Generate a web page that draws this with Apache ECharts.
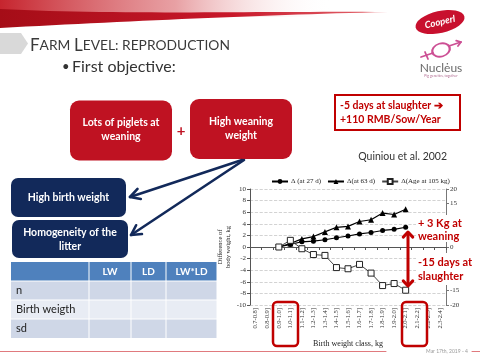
<!DOCTYPE html>
<html><head><meta charset="utf-8">
<script src="https://cdn.jsdelivr.net/npm/echarts@6/dist/echarts.min.js"></script>
<style>html,body{margin:0;padding:0;background:#fff}#c{width:480px;height:360px}</style>
</head><body><div id="c"></div>
<script>
// ---- data ----
const categories = ['0.7-0.8]','0.8-0.9]','0.9-1.0]','1.0-1.1]','1.1-1.2]','1.2-1.3]','1.3-1.4]','1.4-1.5]','1.5-1.6]','1.6-1.7]','1.7-1.8]','1.8-1.9]','1.9-2.0]','2.0-2.1]','2.1-2.2]','2.2-2.3]','2.3-2.4]'];
const at27 = [null,null,0,0.45,0.9,1.0,1.25,1.6,1.9,2.25,2.5,2.85,3.05,3.4,null,null,null];
const at63 = [null,null,0,0.6,1.4,1.8,2.6,3.4,3.55,4.4,4.7,5.85,5.6,6.5,null,null,null];
const age105 = [null,null,0,2.3,-0.6,-2.6,-2.9,-7.1,-7.5,-6.0,-9.0,-13.3,-12.6,-14.9,null,null,null];
const seriesNames = ['\u0394 (at 27 d)','\u0394(at 63 d)','\u0394(Age at 105 kg)'];
const leftAxisTicks = {min:-10, max:10, interval:2};
const rightAxisTicks = {min:-20, max:20, interval:5};
const tableHeader = ['', 'LW', 'LD', 'LW*LD'];
const tableRows = ['n', 'Birth weigth', 'sd'];

// ---- helpers ----
const SANS = 'Lato, "Open Sans", sans-serif';
const SERIF = '"Liberation Serif","DejaVu Serif",serif';
const RED = '#bf1222', NAVY = '#12295a', TRED = '#c00000';
function rect(x,y,w,h,fill,r,z){ return {type:'rect', silent:true, z:z||1, shape:{x:x,y:y,width:w,height:h,r:r||0}, style:{fill:fill}}; }
function txt(x,y,text,opt,z){ return {type:'text', silent:true, z:z||5, x:x, y:y, style:Object.assign({text:text, fill:'#222', fontFamily:SANS, fontSize:11, align:'left', verticalAlign:'middle'}, opt||{})}; }
function line(pts,stroke,w,z){ return {type:'polyline', silent:true, z:z||5, shape:{points:pts}, style:{stroke:stroke, lineWidth:w, fill:null, lineCap:'round', lineJoin:'round'}}; }
function head(tx,ty,fx,fy,len,ang){ const a=Math.atan2(fy-ty,fx-tx); return [[tx+len*Math.cos(a+ang),ty+len*Math.sin(a+ang)],[tx,ty],[tx+len*Math.cos(a-ang),ty+len*Math.sin(a-ang)]]; }
function bez(p0,p1,p2,p3,n){ const out=[]; for(let i=0;i<=n;i++){const t=i/n,u=1-t; out.push([u*u*u*p0[0]+3*u*u*t*p1[0]+3*u*t*t*p2[0]+t*t*t*p3[0], u*u*u*p0[1]+3*u*u*t*p1[1]+3*u*t*t*p2[1]+t*t*t*p3[1]]);} return out; }

const G = [];
// banner
G.push({type:'rect', silent:true, z:1, shape:{x:0,y:0,width:390,height:17}, style:{fill:new echarts.graphic.LinearGradient(0,0,1,0,[{offset:0,color:'rgba(195,25,35,0.95)'},{offset:0.45,color:'rgba(222,120,125,0.7)'},{offset:0.85,color:'rgba(255,255,255,0)'}])}});
const swoosh = bez([0,9],[120,15],[260,11],[388,12],30).concat(bez([388,12],[260,15],[130,21],[0,28],30));
G.push({type:'polygon', silent:true, z:2, shape:{points:swoosh}, style:{fill:new echarts.graphic.LinearGradient(0,0,1,0,[{offset:0,color:'#a50d17'},{offset:0.6,color:'#c8182a'},{offset:1,color:'#e56b72'}])}});
// left gray tab
G.push({type:'polygon', silent:true, z:1, shape:{points:[[0,33],[21,33],[28,43.5],[21,54],[0,54]]}, style:{fill:'#d9d9d9'}});
// title
G.push({type:'text', silent:true, z:5, x:30, y:54, style:{text:'{a|F}{b|ARM }{a|L}{b|EVEL: REPRODUCTION}', verticalAlign:'bottom', rich:{a:{fontSize:17, fontFamily:SANS, fill:'#3a3a3a'}, b:{fontSize:13.8, fontFamily:SANS, fill:'#3a3a3a'}}}});
G.push(txt(62,67,'\u2022',{fontSize:13, fill:'#333'}));
G.push(txt(72,67,'First objective:',{fontSize:16, fill:'#333'}));
// Cooperl logo
G.push({type:'circle', silent:true, z:3, x:440, y:22, rotation:0.22, scaleY:0.44, shape:{cx:0,cy:0,r:25}, style:{fill:'#c8102e'}});
G.push({type:'text', silent:true, z:4, x:440, y:22, rotation:0.22, style:{text:'Cooperl', fill:'#fff', fontFamily:SANS, fontSize:9.5, fontStyle:'italic', fontWeight:'bold', align:'center', verticalAlign:'middle'}});
// Nucleus logo
G.push({type:'circle', silent:true, z:3, x:441, y:50, rotation:0.3, scaleY:0.72, shape:{cx:0,cy:0,r:9}, style:{fill:null, stroke:'#cc4f94', lineWidth:2, strokeNoScale:true}});
G.push(line([[421,57],[433,53]],'#cc4f94',1.8,3));
G.push(line([[425,52],[428,59]],'#cc4f94',1.8,3));
G.push(line([[449,46],[461,42]],'#cc4f94',1.8,3));
G.push(line(head(461,42,449,46,5,0.6),'#cc4f94',1.8,3));
G.push(txt(441,68,'Nuclėus',{fontSize:12, fill:'#6a6a6a', align:'center'}));
G.push(txt(441,75.5,'Pig genetics, together',{fontSize:3.5, fill:'#b06a90', align:'center'}));
// red boxes
G.push(rect(70,100.5,102,60,RED,9));
G.push(txt(121,123,'Lots of piglets at',{fontSize:10.5, fontWeight:'bold', fill:'#fff', align:'center'}));
G.push(txt(121,137,'weaning',{fontSize:10.5, fontWeight:'bold', fill:'#fff', align:'center'}));
G.push(txt(181,131,'+',{fontSize:15, fontWeight:'bold', fill:RED, align:'center'}));
G.push(rect(190,99,102,60,RED,9));
G.push(txt(241,122,'High weaning',{fontSize:10.5, fontWeight:'bold', fill:'#fff', align:'center'}));
G.push(txt(241,136,'weight',{fontSize:10.5, fontWeight:'bold', fill:'#fff', align:'center'}));
// outlined red box
G.push({type:'rect', silent:true, z:3, shape:{x:335,y:95,width:125,height:35}, style:{fill:'#fff', stroke:TRED, lineWidth:2}});
G.push(txt(340,106,'-5 days at slaughter \u2794',{fontSize:10.5, fontWeight:'bold', fill:TRED}));
G.push(txt(340,120,'+110 RMB/Sow/Year',{fontSize:10.5, fontWeight:'bold', fill:TRED}));
G.push(txt(447,157,'Quiniou et al. 2002',{fontSize:10.5, fill:'#333', align:'right'}));
// navy boxes
G.push(rect(11,178,115,39,NAVY,7));
G.push(txt(68.5,198,'High birth weight',{fontSize:10.5, fontWeight:'bold', fill:'#fff', align:'center'}));
G.push(rect(12,220,116,38,NAVY,7));
G.push(txt(70,232.5,'Homogeneity of the',{fontSize:10.5, fontWeight:'bold', fill:'#fff', align:'center'}));
G.push(txt(70,246.5,'litter',{fontSize:10.5, fontWeight:'bold', fill:'#fff', align:'center'}));
// navy arrows
G.push(line([[242,160],[130,197]],NAVY,2.6,6));
G.push(line(head(130,197,242,160,11,0.5),NAVY,2.6,6));
G.push(line([[244,160],[131,235]],NAVY,2.6,6));
G.push(line(head(131,235,244,160,11,0.5),NAVY,2.6,6));
// table
const colX = [11,89,131,166,217];
const rowY = [262,281,300,319,338.5];
const rowFill = ['#4f81bd','#cfd7e7','#e8ecf4','#cfd7e7'];
for (let r=0;r<4;r++){
  for (let c=0;c<4;c++){
    G.push(rect(colX[c]+(c?0.5:0), rowY[r]+(r?0.5:0), colX[c+1]-colX[c]-(c?1:0.5), rowY[r+1]-rowY[r]-(r?1:0.5), rowFill[r], 0, 1));
  }
}
for (let c=1;c<4;c++) G.push(txt((colX[c]+colX[c+1])/2, 271.5, tableHeader[c], {fontSize:10, fontWeight:'bold', fill:'#fff', align:'center'}));
for (let r=0;r<3;r++) G.push(txt(16, (rowY[r+1]+rowY[r+2])/2, tableRows[r], {fontSize:11, fill:'#222'}));
// chart annotations
G.push(rect(416,215,60,27,'#fff',0,20));
G.push(rect(416,253,62,32,'#fff',0,20));
G.push(txt(418,223,'+ 3 Kg at',{fontSize:11, fontWeight:'bold', fill:TRED},21));
G.push(txt(418,236.5,'weaning',{fontSize:11, fontWeight:'bold', fill:TRED},21));
G.push(txt(418,262,'-15 days at',{fontSize:11, fontWeight:'bold', fill:TRED},21));
G.push(txt(418,276,'slaughter',{fontSize:11, fontWeight:'bold', fill:TRED},21));
G.push(line([[408,233],[408,285]],TRED,3,21));
G.push(line(head(408,232,408,250,7,0.75),TRED,3,21));
G.push(line(head(408,286,408,268,7,0.75),TRED,3,21));
G.push({type:'rect', silent:true, z:21, shape:{x:273,y:302,width:25,height:44,r:4}, style:{fill:null, stroke:TRED, lineWidth:2.5}});
G.push({type:'rect', silent:true, z:21, shape:{x:402,y:302,width:25,height:44,r:4}, style:{fill:null, stroke:TRED, lineWidth:2.5}});
// footer
G.push(line([[0,351.5],[386,351.5]],'#e07a7e',1,2));
G.push(line([[472,351.5],[480,351.5]],'#e07a7e',1,2));
G.push(txt(447,351.5,'Mar 17th, 2019 - 4',{fontSize:5, fill:'#999', align:'center'}));

const chart = echarts.init(document.getElementById('c'));
chart.setOption({
  animation:false,
  backgroundColor:'#fff',
  legend:{left:266, top:173, itemGap:6, itemWidth:16, itemHeight:6,
    textStyle:{fontFamily:SERIF, fontSize:7, color:'#222', padding:[0,0,0,-2]}, data:seriesNames},
  grid:{left:250, right:34, top:189, bottom:55, containLabel:false},
  xAxis:{type:'category', data:categories, boundaryGap:true,
    axisLine:{lineStyle:{color:'#555', width:1}}, axisTick:{show:true, length:3, lineStyle:{color:'#555'}},
    axisLabel:{rotate:90, interval:0, fontSize:6.5, fontFamily:SERIF, color:'#333', margin:3},
    name:'Birth weight class, kg', nameLocation:'middle', nameGap:35,
    nameTextStyle:{fontFamily:SERIF, fontSize:8, color:'#222'}},
  yAxis:[
    {type:'value', min:leftAxisTicks.min, max:leftAxisTicks.max, interval:leftAxisTicks.interval,
     axisLine:{show:true, lineStyle:{color:'#555'}}, axisTick:{show:true, length:3, lineStyle:{color:'#555'}},
     splitLine:{show:true, lineStyle:{color:'#c8c8c8', type:'dashed', width:0.8}},
     axisLabel:{fontSize:7, fontFamily:SERIF, color:'#333', margin:4},
     name:'Difference of\nbody weight, kg', nameLocation:'middle', nameGap:15, nameRotate:90,
     nameTextStyle:{fontFamily:SERIF, fontSize:6.5, color:'#222', lineHeight:8}},
    {type:'value', position:'right', min:rightAxisTicks.min, max:rightAxisTicks.max, interval:rightAxisTicks.interval,
     axisLine:{show:true, lineStyle:{color:'#777'}}, axisTick:{show:true, length:3, lineStyle:{color:'#777'}},
     splitLine:{show:false},
     axisLabel:{fontSize:7, fontFamily:SERIF, color:'#333', margin:4}}
  ],
  series:[
    {name:seriesNames[0], type:'line', yAxisIndex:0, data:at27, symbol:'circle', symbolSize:5,
     itemStyle:{color:'#000'}, lineStyle:{color:'#000', width:1.2}, z:3},
    {name:seriesNames[1], type:'line', yAxisIndex:0, data:at63, symbol:'triangle', symbolSize:6,
     itemStyle:{color:'#000'}, lineStyle:{color:'#000', width:1.2}, z:3},
    {name:seriesNames[2], type:'line', yAxisIndex:1, data:age105, symbol:'rect', symbolSize:6,
     itemStyle:{color:'#fff', borderColor:'#222', borderWidth:1}, lineStyle:{color:'#444', width:1}, z:3}
  ],
  graphic:G
});
</script></body></html>
